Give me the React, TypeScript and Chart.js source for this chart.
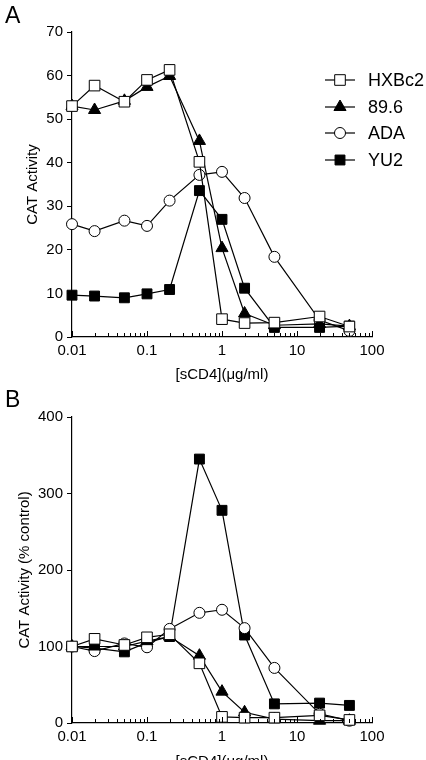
import React, { useEffect, useRef } from "react";
import { Chart, registerables } from "chart.js";

Chart.register(...registerables);

// ---------- data ----------
const concentrations = [0.01, 0.02, 0.05, 0.1, 0.2, 0.5, 1, 2, 5, 20, 50];
const seriesNames = ["HXBc2", "89.6", "ADA", "YU2"];

// Panel A: CAT Activity
const hxbc2A = [53.0, 57.7, 54.0, 59.0, 61.3, 40.2, 4.1, 3.2, 3.3, 4.7, 2.4];
const hiv896A = [53.0, 52.1, 54.2, 57.4, 59.9, 45.0, 20.4, 5.4, 2.7, 3.0, 2.5];
const adaA = [25.9, 24.3, 26.7, 25.5, 31.3, 37.2, 37.9, 31.9, 18.4, 3.9, 1.4];
const yu2A = [9.6, 9.4, 9.0, 9.9, 10.9, 33.6, 27.0, 11.2, 2.2, 2.2, 2.5];

// Panel B: CAT Activity (% control)
const hxbc2B = [100, 110, 102, 112, 116, 78, 8, 7, 7, 10, 4];
const hiv896B = [100, 100, 100, 107, 113, 88, 41, 14, 5, 3, 3];
const adaB = [100, 94, 104, 99, 123, 144, 148, 124, 72, 12, 3];
const yu2B = [100, 98, 93, 105, 113, 345, 278, 115, 25, 26, 23];

// axes
const xDecades = [0.01, 0.1, 1, 10];
const xMinorMultipliers = [1, 2, 3, 4, 5, 6, 7, 8, 9];
const xLabelValues = [0.01, 0.1, 1, 10, 100];
const xTickLabels = ["0.01", "0.1", "1", "10", "100"];
const yTicksA = [0, 10, 20, 30, 40, 50, 60, 70];
const yTicksB = [0, 100, 200, 300, 400];

const FONT = "'Liberation Sans', Arial, Helvetica, sans-serif";

const seriesStyles = [
  { pointStyle: "rect", fill: "#ffffff", radius: 7.5 },
  { pointStyle: "triangle", fill: "#000000", radius: 7 },
  { pointStyle: "circle", fill: "#ffffff", radius: 5.5 },
  { pointStyle: "rect", fill: "#000000", radius: 7 },
];

const xTickValues: number[] = [];
xDecades.forEach((d) => xMinorMultipliers.forEach((m) => xTickValues.push(+(d * m).toPrecision(6))));
xTickValues.push(100);

const isLabelValue = (v: number) => xLabelValues.findIndex((l) => Math.abs(l - v) / l < 1e-6);

function drawMarker(ctx: CanvasRenderingContext2D, style: any, x: number, y: number) {
  ctx.save();
  ctx.fillStyle = style.fill;
  ctx.strokeStyle = "#000";
  ctx.lineWidth = 1;
  ctx.beginPath();
  const r = style.radius;
  if (style.pointStyle === "rect") {
    const s = Math.SQRT1_2 * r;
    ctx.rect(x - s, y - s, 2 * s, 2 * s);
  } else if (style.pointStyle === "triangle") {
    const a = -Math.PI / 2;
    for (let k = 0; k < 3; k++) {
      const ang = a + (k * 2 * Math.PI) / 3;
      const px = x + Math.cos(ang) * r;
      const py = y + Math.sin(ang) * r;
      if (k === 0) ctx.moveTo(px, py);
      else ctx.lineTo(px, py);
    }
    ctx.closePath();
  } else {
    ctx.arc(x, y, r, 0, Math.PI * 2);
  }
  ctx.fill();
  ctx.stroke();
  ctx.restore();
}

type PanelProps = {
  letter: string;
  series: number[][];
  yTicks: number[];
  yMax: number;
  yTitle: string;
  top: number;
  height: number;
  chartTop: number;
  xScaleHeight: number;
  xTitlePadBottom: number;
  yTitlePadTop: number;
  letterBaseline: number;
  showLegend: boolean;
};

function Panel(p: PanelProps) {
  const ref = useRef<HTMLCanvasElement | null>(null);
  useEffect(() => {
    if (!ref.current) return;

    const inwardTicks = {
      id: "inwardTicks",
      afterDraw(chart: any) {
        const ctx = chart.ctx;
        const s = chart.scales.x;
        const yAxis = chart.chartArea.bottom;
        ctx.save();
        ctx.strokeStyle = "#000";
        ctx.lineWidth = 1;
        s.ticks.forEach((t: any) => {
          const px = Math.round(s.getPixelForValue(t.value)) + 0.5;
          const len = isLabelValue(t.value) >= 0 ? 6 : 4;
          ctx.beginPath();
          ctx.moveTo(px, yAxis);
          ctx.lineTo(px, yAxis - len);
          ctx.stroke();
        });
        ctx.restore();
      },
    };

    const extras = {
      id: "extras",
      afterDraw(chart: any) {
        const ctx = chart.ctx;
        ctx.save();
        ctx.fillStyle = "#000";
        ctx.font = `23px ${FONT}`;
        ctx.textBaseline = "alphabetic";
        ctx.textAlign = "left";
        ctx.fillText(p.letter, 5, p.letterBaseline);
        if (p.showLegend) {
          const rows = [80, 107, 133, 160];
          ctx.font = `18px ${FONT}`;
          ctx.textBaseline = "middle";
          seriesNames.forEach((name, i) => {
            const y = rows[i];
            ctx.strokeStyle = "#000";
            ctx.lineWidth = 1.2;
            ctx.beginPath();
            ctx.moveTo(325, y);
            ctx.lineTo(355, y);
            ctx.stroke();
            drawMarker(ctx, seriesStyles[i], 340, y);
            ctx.fillStyle = "#000";
            ctx.fillText(name, 368, y + 1);
          });
        }
        ctx.restore();
      },
    };

    const chart = new Chart(ref.current, {
      type: "line",
      data: {
        datasets: seriesNames.map((name, i) => ({
          label: name,
          data: concentrations.map((x, j) => ({ x, y: p.series[i][j] })),
          borderColor: "#000",
          borderWidth: 1.2,
          pointStyle: seriesStyles[i].pointStyle as any,
          pointRadius: seriesStyles[i].radius,
          pointBackgroundColor: seriesStyles[i].fill,
          pointBorderColor: "#000",
          pointBorderWidth: 1,
          tension: 0,
          fill: false,
          clip: false as any,
        })),
      },
      options: {
        responsive: false,
        maintainAspectRatio: false,
        animation: false,
        devicePixelRatio: 1,
        layout: { padding: { top: p.chartTop, right: 54, bottom: 0, left: 0 } },
        plugins: { legend: { display: false }, tooltip: { enabled: false } },
        scales: {
          x: {
            type: "logarithmic",
            min: 0.01,
            max: 100,
            afterBuildTicks: (s: any) => {
              s.ticks = xTickValues.map((v) => ({ value: v }));
            },
            afterFit: (s: any) => {
              s.height = p.xScaleHeight;
            },
            grid: { display: false, drawTicks: false },
            border: { display: true, color: "#000", width: 1.2 },
            ticks: {
              autoSkip: false,
              maxRotation: 0,
              minRotation: 0,
              padding: 5,
              color: "#000",
              font: { family: FONT, size: 15 },
              callback: (v: any) => {
                const k = isLabelValue(Number(v));
                return k >= 0 ? xTickLabels[k] : "";
              },
            },
            title: {
              display: true,
              text: "[sCD4](μg/ml)",
              color: "#000",
              font: { family: FONT, size: 15 },
              padding: { top: 0, bottom: p.xTitlePadBottom },
            },
          },
          y: {
            type: "linear",
            min: 0,
            max: p.yMax,
            afterBuildTicks: (s: any) => {
              s.ticks = p.yTicks.map((v) => ({ value: v }));
            },
            afterFit: (s: any) => {
              s.width = 72;
            },
            grid: { display: true, drawOnChartArea: false, drawTicks: true, tickLength: 5, color: "#000", lineWidth: 1 },
            border: { display: true, color: "#000", width: 1.2 },
            ticks: {
              padding: 4,
              color: "#000",
              font: { family: FONT, size: 15 },
              callback: (v: any) => String(v),
            },
            title: {
              display: true,
              text: p.yTitle,
              color: "#000",
              font: { family: FONT, size: 15 },
              padding: { top: p.yTitlePadTop, bottom: 0 },
            },
          },
        },
      },
      plugins: [inwardTicks, extras],
    });
    return () => chart.destroy();
  }, []);

  return (
    <canvas
      ref={ref}
      width={426}
      height={p.height}
      style={{ position: "absolute", left: 0, top: p.top, width: 426, height: p.height, display: "block" }}
    />
  );
}

export default function App() {
  return (
    <div
      style={{
        position: "fixed",
        left: 0,
        top: 0,
        width: 426,
        height: 760,
        overflow: "hidden",
        background: "#fff",
      }}
    >
      <Panel
        letter="A"
        series={[hxbc2A, hiv896A, adaA, yu2A]}
        yTicks={yTicksA}
        yMax={70}
        yTitle="CAT Activity"
        top={0}
        height={395}
        chartTop={32}
        xScaleHeight={58}
        xTitlePadBottom={11}
        yTitlePadTop={24}
        letterBaseline={23}
        showLegend={true}
      />
      <Panel
        letter="B"
        series={[hxbc2B, hiv896B, adaB, yu2B]}
        yTicks={yTicksB}
        yMax={400}
        yTitle="CAT Activity (% control)"
        top={380}
        height={400}
        chartTop={37}
        xScaleHeight={57}
        xTitlePadBottom={9}
        yTitlePadTop={16}
        letterBaseline={27}
        showLegend={false}
      />
    </div>
  );
}
